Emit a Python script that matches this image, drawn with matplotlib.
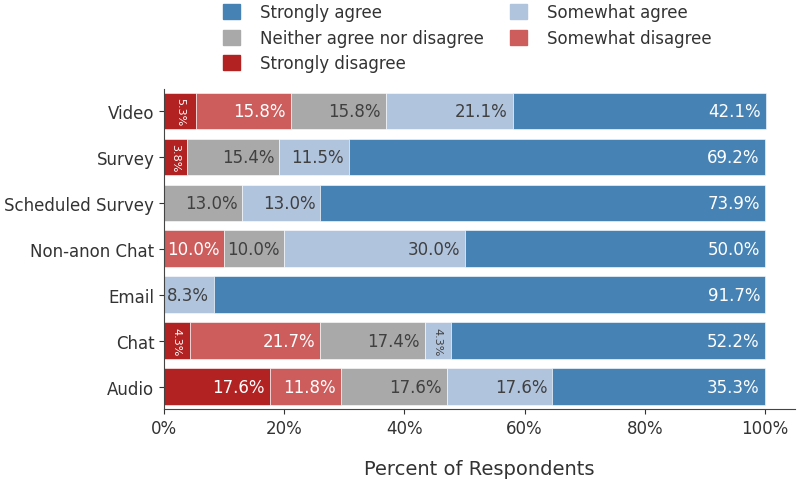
import numpy as np
import matplotlib.pyplot as plt
from matplotlib.patches import Patch

plt.rcParams['font.family'] = 'DejaVu Sans'

# data (percent of respondents), bottom row first
channels = ['Audio', 'Chat', 'Email', 'Non-anon Chat', 'Scheduled Survey', 'Survey', 'Video']
strongly_disagree = [17.6, 4.3, 0.0, 0.0, 0.0, 3.8, 5.3]
somewhat_disagree = [11.8, 21.7, 0.0, 10.0, 0.0, 0.0, 15.8]
neither = [17.6, 17.4, 0.0, 10.0, 13.0, 15.4, 15.8]
somewhat_agree = [17.6, 4.3, 8.3, 30.0, 13.0, 11.5, 21.1]
strongly_agree = [35.3, 52.2, 91.7, 50.0, 73.9, 69.2, 42.1]

series = [
    ('Strongly disagree', strongly_disagree, '#b22222', 'white'),
    ('Somewhat disagree', somewhat_disagree, '#cd5c5c', 'white'),
    ('Neither agree nor disagree', neither, '#a9a9a9', '#404040'),
    ('Somewhat agree', somewhat_agree, '#b0c4de', '#404040'),
    ('Strongly agree', strongly_agree, '#4682b4', 'white'),
]

fig = plt.figure(figsize=(8, 4.81), dpi=100)
ax = fig.add_axes([0.205, 0.148, 0.789, 0.665])

y = np.arange(len(channels))
left = np.zeros(len(channels))
colors = {}
for name, vals, col, tcol in series:
    vals = np.array(vals) / 100
    ax.barh(y, vals, left=left, height=0.8, color=col, edgecolor='white', linewidth=0.4)
    colors[name] = col
    for yi, l, v in zip(y, left, vals):
        if v <= 0:
            continue
        txt = f'{v * 100:.1f}%'
        if v < 0.06:
            ax.text(l + v / 2, yi, txt, ha='center', va='center', rotation=-90,
                    fontsize=8, color=tcol)
        else:
            ax.text(l + v - 0.008, yi, txt, ha='right', va='center',
                    fontsize=12, color=tcol)
    left = left + vals

ax.set_xlim(0, 1.05)
ax.set_ylim(-0.48, len(channels) - 0.52)
ax.set_yticks(y)
ax.set_yticklabels(channels)
ax.set_xticks(np.linspace(0, 1, 6))
ax.set_xticklabels([f'{int(t)}%' for t in np.linspace(0, 100, 6)])
ax.tick_params(labelsize=12, colors='#333333')
ax.set_xlabel('Percent of Respondents', fontsize=14, color='#333333', labelpad=16)

ax.spines['top'].set_visible(False)
ax.spines['right'].set_visible(False)
for s in ['left', 'bottom']:
    ax.spines[s].set_color('#444444')

legend_order = ['Strongly agree', 'Neither agree nor disagree', 'Strongly disagree',
                'Somewhat agree', 'Somewhat disagree']
handles = [Patch(color=colors[n], label=n) for n in legend_order]
fig.legend(handles=handles, ncol=2, loc='upper center', bbox_to_anchor=(0.584, 1.022),
           frameon=False, fontsize=12, handlelength=1.0, handleheight=1.0,
           handletextpad=1.2, columnspacing=1.6, labelspacing=0.45,
           labelcolor='#333333')

fig.savefig('out.png', dpi=100)
